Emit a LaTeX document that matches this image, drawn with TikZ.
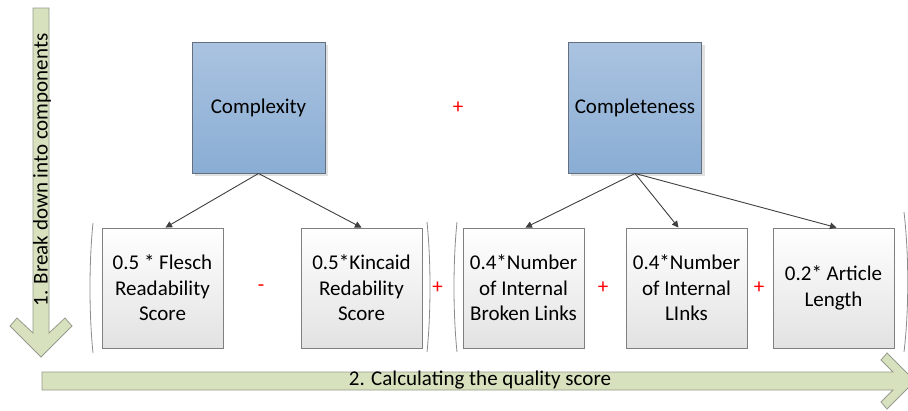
\documentclass[tikz,border=0pt]{standalone}
\usepackage{fontspec}
\setmainfont{Carlito}
\usetikzlibrary{arrows.meta}

\definecolor{blueTop}{RGB}{170,195,224}
\definecolor{blueBot}{RGB}{138,173,212}
\definecolor{blueEdge}{RGB}{100,112,128}
\definecolor{boxEdge}{RGB}{128,128,128}
\definecolor{boxBot}{RGB}{226,226,226}
\definecolor{arrowFill}{RGB}{215,225,190}
\definecolor{arrowEdge}{RGB}{150,155,140}
\definecolor{connGray}{RGB}{64,64,64}
\definecolor{parenGray}{RGB}{140,140,140}

\tikzset{
  every node/.style={font=\fontsize{21}{25.5}\selectfont, text=black},
  metric/.style={draw=blueEdge, line width=0.9pt, top color=blueTop, bottom color=blueBot,
                 minimum width=133pt, minimum height=131pt, inner sep=0pt},
  term/.style={draw=boxEdge, line width=0.9pt, top color=white, bottom color=boxBot,
               minimum width=121pt, minimum height=120pt, inner sep=0pt, align=center},
  op/.style={text=red, inner sep=0pt},
  conn/.style={draw=connGray, line width=0.9pt, -{Triangle[length=6.5pt,width=6.5pt]}},
  paren/.style={draw=parenGray, line width=0.8pt},
  stage/.style={fill=arrowFill, draw=arrowEdge, line width=0.8pt, line join=miter},
}

\begin{document}
\begin{tikzpicture}[x=1pt,y=-1pt]
\clip (0,0) rectangle (908,410);
\fill[white] (0,0) rectangle (908,410);

% stage arrows
\draw[stage] (33,8) -- (33,333) -- (17,318) -- (10,326) -- (41,357) -- (72,326)
  -- (65,318) -- (49,333) -- (49,8) -- cycle;
\draw[stage] (42,372) -- (893,372) -- (881,360) -- (887,353) -- (915,381) -- (887,409)
  -- (881,402) -- (893,390) -- (42,390) -- cycle;
\node[rotate=90] (stepA) at (42,170) {1. Break down into components};
\node (stepB) at (480,380) {2. Calculating the quality score};

% soft shadows behind the metric boxes
\fill[black!12] (194.5,44.5) rectangle (327.5,175.5);
\fill[black!12] (570.5,44.5) rectangle (704.5,175.5);

% top-level metrics
\node[metric] (cx) at (258.5,107.5) {Complexity};
\node[metric] (cp) at (635,107.5) {Completeness};
\node[op] (opTop) at (458,108) {+};

% weighted terms
\node[term] (b1) at (162.5,288) {0.5 * Flesch\\Readability\\Score};
\node[term] (b2) at (361.5,288) {0.5*Kincaid\\Redability\\Score};
\node[term] (b3) at (523.5,288) {0.4*Number\\of Internal\\Broken Links};
\node[term] (b4) at (686.5,288) {0.4*Number\\of Internal\\LInks};
\node[term] (b5) at (833.5,288) {0.2* Article\\Length};

\node[op] (op1) at (261,288) {-};
\node[op] (op2) at (437.5,288) {+};
\node[op] (op3) at (603,288) {+};
\node[op] (op4) at (759,288) {+};

% brackets around each group
\draw[paren] (93,223) .. controls (89,262) and (89,314) .. (93,353);
\draw[paren] (427,222) .. controls (431,261) and (431,313) .. (427,352);
\draw[paren] (457,222) .. controls (453,261) and (453,313) .. (457,352);
\draw[paren] (904,212) .. controls (909,255) and (909,310) .. (904,352);

% decomposition connectors
\draw[conn] (cx.south) -- ([xshift=3pt]b1.north);
\draw[conn] (cx.south) -- (b2.north);
\draw[conn] (cp.south) -- ([xshift=2pt]b3.north);
\draw[conn] (cp.south) -- ([xshift=-8pt]b4.north);
\draw[conn] (cp.south) -- ([xshift=3pt]b5.north);
\end{tikzpicture}
\end{document}
